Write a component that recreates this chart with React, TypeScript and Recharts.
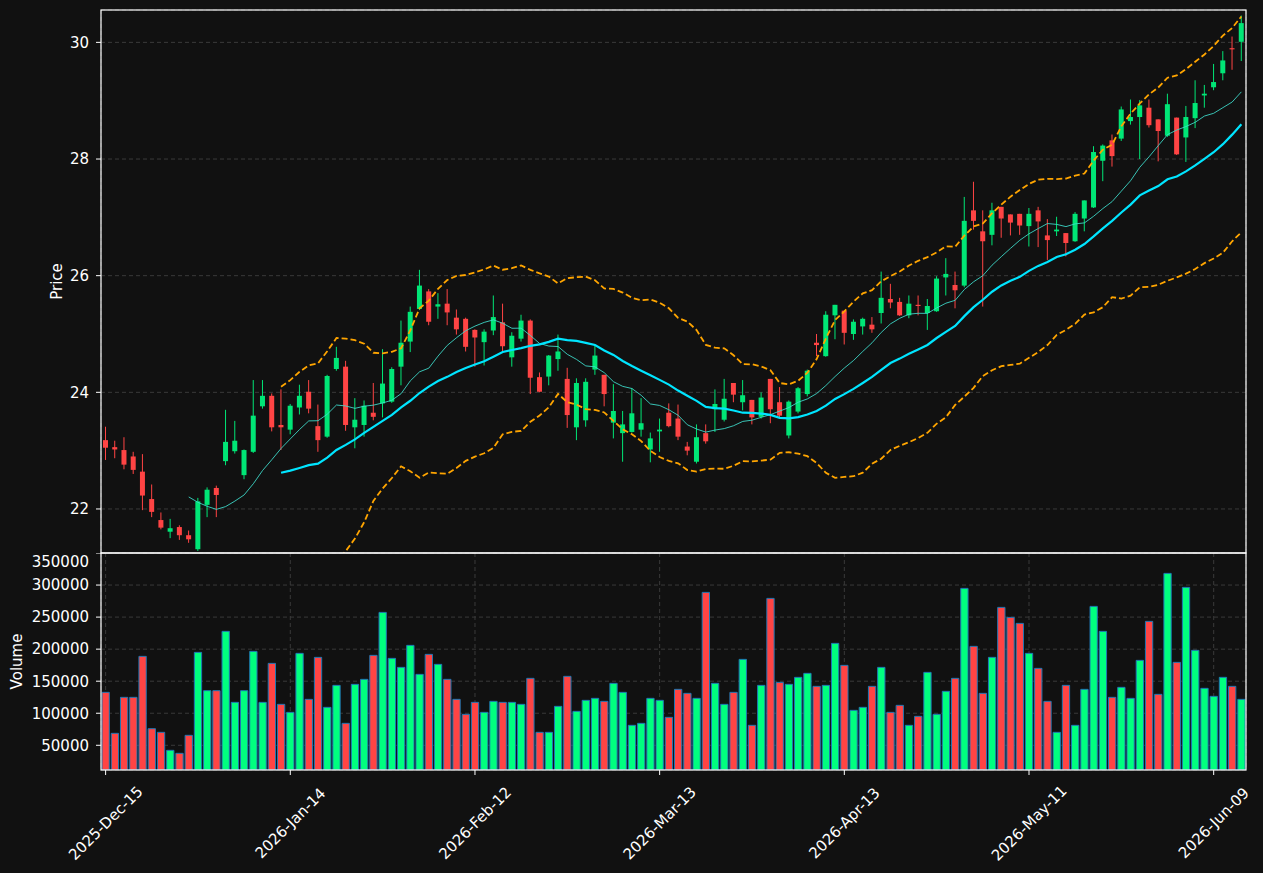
import React from "react";
import {
  ComposedChart,
  Bar,
  Line,
  Cell,
  XAxis,
  YAxis,
  CartesianGrid,
} from "recharts";

// trading days (NYSE calendar)
const dates = [
  "2025-Dec-15", "2025-Dec-16", "2025-Dec-17", "2025-Dec-18", "2025-Dec-19", "2025-Dec-22", "2025-Dec-23", "2025-Dec-24", "2025-Dec-26", "2025-Dec-29", "2025-Dec-30", "2025-Dec-31",
  "2026-Jan-02", "2026-Jan-05", "2026-Jan-06", "2026-Jan-07", "2026-Jan-08", "2026-Jan-09", "2026-Jan-12", "2026-Jan-13", "2026-Jan-14", "2026-Jan-15", "2026-Jan-16", "2026-Jan-20", "2026-Jan-21", "2026-Jan-22", "2026-Jan-23", "2026-Jan-26", "2026-Jan-27", "2026-Jan-28", "2026-Jan-29", "2026-Jan-30",
  "2026-Feb-02", "2026-Feb-03", "2026-Feb-04", "2026-Feb-05", "2026-Feb-06", "2026-Feb-09", "2026-Feb-10", "2026-Feb-11", "2026-Feb-12", "2026-Feb-13", "2026-Feb-17", "2026-Feb-18", "2026-Feb-19", "2026-Feb-20", "2026-Feb-23", "2026-Feb-24", "2026-Feb-25", "2026-Feb-26", "2026-Feb-27",
  "2026-Mar-02", "2026-Mar-03", "2026-Mar-04", "2026-Mar-05", "2026-Mar-06", "2026-Mar-09", "2026-Mar-10", "2026-Mar-11", "2026-Mar-12", "2026-Mar-13", "2026-Mar-16", "2026-Mar-17", "2026-Mar-18", "2026-Mar-19", "2026-Mar-20", "2026-Mar-23", "2026-Mar-24", "2026-Mar-25", "2026-Mar-26", "2026-Mar-27", "2026-Mar-30", "2026-Mar-31",
  "2026-Apr-01", "2026-Apr-02", "2026-Apr-06", "2026-Apr-07", "2026-Apr-08", "2026-Apr-09", "2026-Apr-10", "2026-Apr-13", "2026-Apr-14", "2026-Apr-15", "2026-Apr-16", "2026-Apr-17", "2026-Apr-20", "2026-Apr-21", "2026-Apr-22", "2026-Apr-23", "2026-Apr-24", "2026-Apr-27", "2026-Apr-28", "2026-Apr-29", "2026-Apr-30",
  "2026-May-01", "2026-May-04", "2026-May-05", "2026-May-06", "2026-May-07", "2026-May-08", "2026-May-11", "2026-May-12", "2026-May-13", "2026-May-14", "2026-May-15", "2026-May-18", "2026-May-19", "2026-May-20", "2026-May-21", "2026-May-22", "2026-May-26", "2026-May-27", "2026-May-28", "2026-May-29",
  "2026-Jun-01", "2026-Jun-02", "2026-Jun-03", "2026-Jun-04", "2026-Jun-05", "2026-Jun-08", "2026-Jun-09", "2026-Jun-10", "2026-Jun-11", "2026-Jun-12",
];

const opens = [
  23.18, 23.06, 23.01, 22.9, 22.64, 22.17, 21.81, 21.61, 21.69, 21.55,
  21.31, 22.07, 22.36, 22.82, 22.99, 22.58, 22.98, 23.76, 23.94, 23.44,
  23.36, 23.74, 24.01, 23.42, 23.24, 24.4, 24.44, 23.4, 23.44, 23.65,
  23.81, 23.84, 24.44, 24.87, 25.43, 25.73, 25.47, 25.52, 25.28, 25.26,
  25.07, 24.86, 25.06, 25.2, 24.6, 24.92, 25.23, 24.26, 24.27, 24.57,
  24.23, 23.4, 23.52, 24.39, 24.3, 23.48, 23.3, 23.32, 23.36, 23.02,
  23.33, 23.65, 23.55, 23.07, 22.81, 23.3, 23.71, 23.53, 24.16, 23.83,
  23.87, 23.58, 24.23, 23.83, 23.26, 23.67, 23.97, 24.85, 24.62, 25.32,
  25.4, 25.0, 25.13, 25.16, 25.36, 25.6, 25.55, 25.32, 25.5, 25.36,
  25.39, 25.97, 25.84, 25.83, 27.12, 26.76, 26.7, 27.18, 27.05, 27.06,
  26.85, 27.12, 26.69, 26.76, 26.73, 26.59, 26.98, 27.17, 27.97, 28.32,
  28.35, 28.65, 28.72, 28.88, 28.68, 28.4, 28.71, 28.37, 28.7, 29.09,
  29.23, 29.47, 29.9, 30.01,
];

const highs = [
  23.41, 23.17, 23.23, 22.98, 22.94, 22.42, 21.94, 21.83, 21.72, 21.63,
  22.19, 22.37, 22.4, 23.7, 23.51, 23.02, 24.21, 24.21, 23.98, 24.05,
  23.8, 24.13, 24.21, 23.79, 24.3, 24.78, 24.54, 23.9, 23.86, 24.16,
  24.74, 24.43, 25.23, 25.47, 26.1, 25.77, 25.7, 25.77, 25.42, 25.28,
  25.08, 25.08, 25.66, 25.52, 25.03, 25.33, 25.25, 24.34, 24.64, 24.99,
  24.42, 24.24, 24.24, 24.8, 24.3, 24.14, 23.68, 24.07, 23.9, 23.31,
  23.55, 23.81, 23.79, 23.15, 23.45, 23.45, 24.05, 24.23, 24.16, 24.21,
  23.87, 24.0, 24.23, 24.09, 23.86, 24.09, 24.39, 25.0, 25.39, 25.5,
  25.4, 25.25, 25.28, 25.29, 26.07, 25.86, 25.62, 25.66, 25.66, 25.6,
  25.99, 26.3, 26.07, 27.35, 27.61, 27.12, 27.25, 27.18, 27.05, 27.06,
  27.16, 27.18, 26.97, 27.01, 26.73, 27.09, 27.29, 28.22, 28.25, 28.42,
  28.9, 29.02, 29.01, 29.02, 28.68, 29.12, 28.71, 28.91, 29.35, 29.27,
  29.63, 29.85, 30.1, 30.46,
];

const lows = [
  22.84, 22.87, 22.68, 22.6, 21.98, 21.86, 21.65, 21.5, 21.47, 21.42,
  21.28, 21.86, 21.86, 22.75, 22.95, 22.51, 22.96, 23.72, 23.33, 23.01,
  23.28, 23.62, 23.64, 22.98, 23.22, 24.37, 23.34, 23.04, 23.24, 23.52,
  23.57, 23.82, 24.12, 24.69, 25.41, 25.15, 25.26, 25.15, 24.99, 24.7,
  24.44, 24.46, 24.98, 24.7, 24.44, 24.87, 23.97, 24.0, 24.12, 24.37,
  23.39, 23.18, 23.41, 24.3, 23.76, 23.21, 22.81, 23.31, 23.24, 22.8,
  22.98, 23.4, 23.18, 22.92, 22.78, 23.12, 23.32, 23.5, 23.83, 23.69,
  23.45, 23.55, 23.47, 23.55, 23.21, 23.64, 23.93, 24.62, 24.61, 24.91,
  24.82, 24.9, 24.99, 25.02, 25.18, 25.44, 25.31, 25.27, 25.32, 25.07,
  25.38, 25.66, 25.44, 25.8, 26.79, 25.47, 26.52, 26.65, 26.69, 26.7,
  26.5, 26.49, 26.27, 26.68, 26.33, 26.58, 26.76, 27.16, 27.62, 27.87,
  28.31, 28.59, 28.0, 28.54, 27.96, 28.38, 28.07, 27.95, 28.53, 28.88,
  29.18, 29.35, 29.53, 29.68,
];

const closes = [
  23.05, 23.02, 22.76, 22.67, 22.23, 21.95, 21.68, 21.67, 21.55, 21.48,
  22.13, 22.33, 22.24, 23.15, 23.17, 23.01, 23.6, 23.94, 23.4, 23.4,
  23.77, 23.94, 23.72, 23.18, 24.28, 24.59, 23.44, 23.53, 23.77, 23.58,
  24.15, 24.4, 24.85, 25.38, 25.83, 25.21, 25.51, 25.37, 25.08, 24.78,
  24.94, 25.04, 25.29, 24.79, 24.97, 25.23, 24.25, 24.01, 24.63, 24.7,
  23.61, 24.16, 24.18, 24.63, 23.97, 23.68, 23.45, 23.64, 23.47, 23.21,
  23.36, 23.42, 23.24, 23.0, 23.23, 23.16, 23.8, 23.89, 23.96, 23.95,
  23.57, 23.91, 23.71, 23.6, 23.84, 24.07, 24.37, 24.81, 25.33, 25.5,
  25.02, 25.21, 25.26, 25.08, 25.62, 25.54, 25.32, 25.52, 25.48, 25.48,
  25.95, 26.03, 25.75, 26.94, 26.94, 26.59, 27.12, 26.98, 26.91, 26.86,
  27.06, 26.93, 26.61, 26.79, 26.56, 27.06, 27.29, 28.12, 28.23, 28.05,
  28.85, 28.72, 28.92, 28.58, 28.48, 28.94, 28.08, 28.72, 28.96, 29.12,
  29.32, 29.69, 29.88, 30.33,
];

const volumes = [
  132600, 68640, 124800, 124800, 188740, 75920, 70200, 42130, 37450, 65540,
  194980, 135200, 135200, 227730, 116990, 135200, 196530, 116990, 177820, 113870,
  101400, 193420, 121670, 187180, 109190, 143500, 84240, 145070, 152870, 190300,
  257360, 185620, 171580, 205900, 160660, 191860, 176260, 152870, 121670, 98280,
  116990, 101400, 118550, 116990, 116990, 113870, 154430, 70200, 70200, 110750,
  157550, 102960, 120110, 123230, 118550, 146630, 132600, 81120, 84240, 123230,
  120110, 93600, 137270, 131030, 123230, 288560, 146630, 113870, 132600, 184060,
  81120, 143500, 279200, 148190, 145070, 155990, 162230, 141950, 143500, 209010,
  174700, 104520, 109190, 141950, 171580, 101400, 112310, 81120, 95150, 163780,
  98280, 134150, 154430, 294800, 204330, 131030, 187180, 265160, 249560, 240200,
  193420, 170020, 118550, 70200, 143500, 81120, 137270, 266720, 227730, 124800,
  140390, 123230, 182500, 243330, 129470, 318190, 179380, 296360, 198100, 138830,
  126350, 155990, 141950, 121670,
];

const xTickLabels = [
  "2025-Dec-15", "2026-Jan-14", "2026-Feb-12", "2026-Mar-13",
  "2026-Apr-13", "2026-May-11", "2026-Jun-09",
];
const priceTicks = [22, 24, 26, 28, 30];
const volumeTicks = [50000, 100000, 150000, 200000, 250000, 300000, 350000];

const UP = "#00e676";
const DOWN = "#ff4444";
const VOL_UP = "#00ff7f";
const VOL_DOWN = "#ff4444";
const GRID = "#3a3a3a";
const FONT = "'DejaVu Sans', sans-serif";
const FONT_SIZE = 15;

// moving average / bollinger computed from the closes
const rollingMean = (arr: number[], n: number) =>
  arr.map((_, i) => {
    if (i < n - 1) return null;
    const win = arr.slice(i - n + 1, i + 1);
    return win.reduce((a, b) => a + b, 0) / n;
  });

const rollingStd = (arr: number[], n: number) =>
  arr.map((_, i) => {
    if (i < n - 1) return null;
    const win = arr.slice(i - n + 1, i + 1);
    const m = win.reduce((a, b) => a + b, 0) / n;
    const v = win.reduce((a, b) => a + (b - m) * (b - m), 0) / (n - 1);
    return Math.sqrt(v);
  });

const ma10 = rollingMean(closes, 10);
const ma20 = rollingMean(closes, 20);
const sd20 = rollingStd(closes, 20);

const data = dates.map((date, i) => ({
  date,
  open: opens[i],
  high: highs[i],
  low: lows[i],
  close: closes[i],
  range: [lows[i], highs[i]],
  volume: volumes[i],
  ma10: ma10[i],
  ma20: ma20[i],
  upper: ma20[i] == null ? null : (ma20[i] as number) + 2 * (sd20[i] as number),
  lower: ma20[i] == null ? null : (ma20[i] as number) - 2 * (sd20[i] as number),
}));

const Candle = (props: any) => {
  const { x, y, width, height, payload } = props;
  if (payload == null) return null;
  const { open, close, high, low } = payload;
  const color = close >= open ? UP : DOWN;
  const top = Math.min(y, y + height);
  const h = Math.abs(height);
  const span = high - low || 1;
  const yAt = (v: number) => top + ((high - v) / span) * h;
  const bodyTop = yAt(Math.max(open, close));
  const bodyBot = yAt(Math.min(open, close));
  const cx = x + width / 2;
  return (
    <g>
      <line x1={cx} x2={cx} y1={top} y2={top + h} stroke={color} strokeWidth={1} />
      <rect
        x={x}
        y={bodyTop}
        width={width}
        height={Math.max(bodyBot - bodyTop, 1)}
        fill={color}
      />
    </g>
  );
};

// volume plot is 217px tall inside its svg; labels centred 53px below it
const DateTick = (props: any) => {
  const { x, payload } = props;
  const cy = 270;
  return (
    <text
      x={x}
      y={cy}
      dy="0.35em"
      textAnchor="middle"
      fill="#ffffff"
      fontSize={FONT_SIZE}
      fontFamily={FONT}
      transform={`rotate(-45, ${x}, ${cy})`}
    >
      {payload.value}
    </text>
  );
};

const axisTick = { fill: "#ffffff", fontSize: FONT_SIZE, fontFamily: FONT };

const App: React.FC = () => {
  return (
    <div
      style={{
        position: "fixed",
        left: 0,
        top: 0,
        width: 1263,
        height: 873,
        background: "#111111",
        fontFamily: FONT,
        overflow: "hidden",
      }}
    >
      <div style={{ position: "absolute", left: 0, top: 0 }}>
        <ComposedChart
          width={1263}
          height={553}
          data={data}
          margin={{ top: 10, right: 17, bottom: 0, left: 0 }}
        >
          <CartesianGrid stroke={GRID} strokeDasharray="4 3" />
          <XAxis
            dataKey="date"
            ticks={xTickLabels}
            interval={0}
            height={0}
            tick={false}
            tickLine={false}
            axisLine={false}
          />
          <YAxis
            type="number"
            domain={[21.245, 30.555]}
            ticks={priceTicks}
            allowDataOverflow
            width={101}
            tick={axisTick}
            tickLine={{ stroke: "#ffffff" }}
            tickSize={5}
            tickMargin={7}
            axisLine={false}
          />
          <Bar
            dataKey="range"
            barSize={5}
            shape={<Candle />}
            isAnimationActive={false}
          />
          <Line
            dataKey="ma10"
            stroke="#40e0d0"
            strokeOpacity={0.85}
            strokeWidth={1}
            dot={false}
            isAnimationActive={false}
          />
          <Line
            dataKey="ma20"
            stroke="#00e5ff"
            strokeWidth={2.2}
            dot={false}
            isAnimationActive={false}
          />
          <Line
            dataKey="upper"
            stroke="#ffa500"
            strokeWidth={1.8}
            strokeDasharray="6 3"
            dot={false}
            isAnimationActive={false}
          />
          <Line
            dataKey="lower"
            stroke="#ffa500"
            strokeWidth={1.8}
            strokeDasharray="6 3"
            dot={false}
            isAnimationActive={false}
          />
        </ComposedChart>
      </div>

      <div style={{ position: "absolute", left: 0, top: 553 }}>
        <ComposedChart
          width={1263}
          height={320}
          data={data}
          margin={{ top: 0, right: 17, bottom: 0, left: 0 }}
        >
          <CartesianGrid stroke={GRID} strokeDasharray="4 3" />
          <XAxis
            dataKey="date"
            ticks={xTickLabels}
            interval={0}
            height={103}
            tick={<DateTick />}
            tickLine={{ stroke: "#ffffff" }}
            tickSize={5}
            axisLine={false}
          />
          <YAxis
            type="number"
            domain={[11450, 350000]}
            ticks={volumeTicks}
            allowDataOverflow
            width={101}
            tick={axisTick}
            tickLine={{ stroke: "#ffffff" }}
            tickSize={5}
            tickMargin={7}
            axisLine={false}
          />
          <Bar
            dataKey="volume"
            barSize={7.3}
            stroke="#1f77b4"
            strokeWidth={1}
            isAnimationActive={false}
          >
            {data.map((d, i) => (
              <Cell key={i} fill={d.close >= d.open ? VOL_UP : VOL_DOWN} />
            ))}
          </Bar>
        </ComposedChart>
      </div>

      <svg
        width={1263}
        height={873}
        style={{ position: "absolute", left: 0, top: 0, pointerEvents: "none" }}
      >
        <rect x={101} y={10} width={1145} height={543} fill="none" stroke="#ffffff" strokeWidth={1.2} />
        <rect x={101} y={553} width={1145} height={217} fill="none" stroke="#ffffff" strokeWidth={1.2} />
        <text
          x={57}
          y={281.5}
          dy="0.35em"
          textAnchor="middle"
          fill="#ffffff"
          fontSize={FONT_SIZE}
          fontFamily={FONT}
          transform="rotate(-90, 57, 281.5)"
        >
          Price
        </text>
        <text
          x={17}
          y={661.5}
          dy="0.35em"
          textAnchor="middle"
          fill="#ffffff"
          fontSize={FONT_SIZE}
          fontFamily={FONT}
          transform="rotate(-90, 17, 661.5)"
        >
          Volume
        </text>
      </svg>
    </div>
  );
};

export default App;
